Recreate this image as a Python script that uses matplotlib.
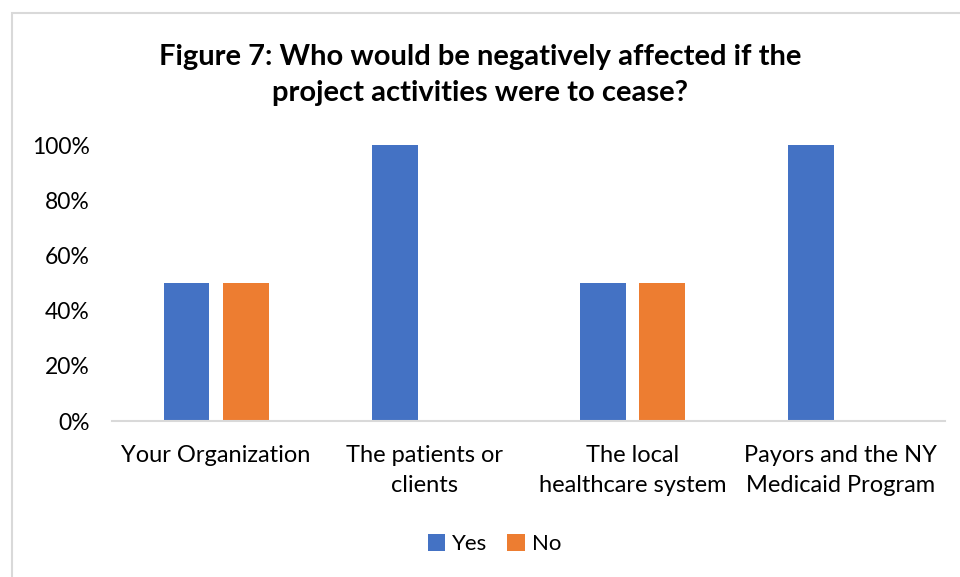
import numpy as np
import matplotlib.pyplot as plt
from matplotlib.patches import Rectangle

categories = ['Your Organization', 'The patients or\nclients', 'The local\nhealthcare system', 'Payors and the NY\nMedicaid Program']
yes = [50, 100, 50, 100]
no = [50, 0, 50, 0]
yticks = [0, 20, 40, 60, 80, 100]

plt.rcParams['font.family'] = ['Lato', 'DejaVu Sans']

fig = plt.figure(figsize=(9.6, 5.77), dpi=100)
# light grey chart border (right/bottom run off the image)
fig.patches.append(Rectangle((12/960, -0.1), 1.1, 1 - 13/577 + 0.1, transform=fig.transFigure,
                             fill=False, edgecolor='#d9d9d9', linewidth=1.5))

ax = fig.add_axes([112/960, 1 - 421/577, 833/960, 276/577])
x = np.arange(len(categories))
w = 0.22
ax.bar(x - 0.142, yes, w, color='#4472c4', label='Yes')
ax.bar(x + 0.142, no, w, color='#ed7d31', label='No')

ax.set_xlim(-0.5, 3.5)
ax.set_ylim(0, 100)
ax.set_yticks(yticks)
ax.set_yticklabels([f'{v}%' for v in yticks], fontsize=16.5)
ax.set_xticks(x)
ax.set_xticklabels(categories, fontsize=17, linespacing=1.55)
ax.tick_params(axis='y', length=0, pad=16)
ax.tick_params(axis='x', length=0, pad=17)
for s in ['top', 'right', 'left']:
    ax.spines[s].set_visible(False)
ax.spines['bottom'].set_color('#d9d9d9')
ax.spines['bottom'].set_linewidth(1.5)

fig.text(0.5, 1 - 75/577, 'Figure 7: Who would be negatively affected if the\nproject activities were to cease?',
         ha='center', va='center', fontsize=21, fontweight='bold', linespacing=1.5)

fig.legend(loc='center', bbox_to_anchor=(0.515, 1 - 544/577), ncol=2, frameon=False,
           fontsize=16, handlelength=0.8, handleheight=0.8, handletextpad=0.3, columnspacing=0.9)

fig.savefig('out.png', dpi=100)
